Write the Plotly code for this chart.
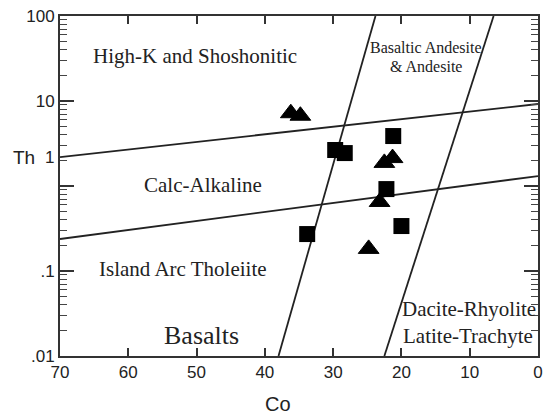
import plotly.graph_objects as go
import math

# ---- data ----
square_co = [29.7, 28.3, 21.2, 22.2, 20.0, 33.8]
square_th = [2.65, 2.44, 3.87, 0.92, 0.338, 0.272]

triangle_co = [36.2, 34.8, 21.3, 22.5, 23.2, 24.8]
triangle_th = [7.18, 6.71, 2.13, 1.87, 0.649, 0.182]

# field boundaries
upper_co = [70, 0]
upper_th = [2.19, 9.22]
lower_co = [70, 0]
lower_th = [0.238, 1.31]
left_co = [38.0, 23.8]
left_th = [0.01, 100]
right_co = [22.5, 6.5]
right_th = [0.01, 100]

x_ticks = [70, 60, 50, 40, 30, 20, 10, 0]
y_ticks = [0.01, 0.1, 1, 10, 100]
y_ticktext = [".01", ".1", "", "10", "100"]
y_minor = [m * 10 ** e for e in range(-2, 2) for m in range(2, 10)]

# field labels: (text, Co, Th, size)
field_labels = [
    ("High-K and Shoshonitic", 50.3, 10 ** 1.53, 21),
    ("Calc-Alkaline", 49.0, 10 ** 0.01, 21),
    ("Island Arc Tholeiite", 52.0, 10 ** -0.976, 21),
    ("Basalts", 49.3, 10 ** -1.753, 26),
    ("Basaltic Andesite", 16.4, 10 ** 1.624, 16),
    ("&amp; Andesite", 16.4, 10 ** 1.406, 16),
    ("Dacite-Rhyolite", 10.1, 10 ** -1.447, 21),
    ("Latite-Trachyte", 10.2, 10 ** -1.765, 21),
]

LINE = "#222222"
fig = go.Figure()
for xs, ys in [(upper_co, upper_th), (lower_co, lower_th), (left_co, left_th), (right_co, right_th)]:
    fig.add_trace(go.Scatter(x=xs, y=ys, mode="lines", line=dict(color=LINE, width=1.8),
                             hoverinfo="skip", showlegend=False))

fig.add_trace(go.Scatter(x=square_co, y=square_th, mode="markers",
                         marker=dict(symbol="square", size=16, color="black"), showlegend=False))
fig.add_trace(go.Scatter(x=triangle_co, y=triangle_th, mode="markers",
                         marker=dict(symbol="triangle-up", size=18, color="black",
                                     line=dict(width=1, color="black")), showlegend=False))

for text, cx, cy, sz in field_labels:
    fig.add_annotation(x=cx, y=math.log10(cy), xref="x", yref="y", text=text, showarrow=False,
                       font=dict(family="Liberation Serif, Times New Roman, serif", size=sz, color="#222"),
                       xanchor="center", yanchor="middle")

sans = "Liberation Sans, Arial, sans-serif"
# "1" label sits where the original figure draws it, with the horizontal "Th" title
fig.add_annotation(x=0, y=0.341, xref="paper", yref="y", text="1", showarrow=False,
                   xanchor="right", xshift=-4, font=dict(family=sans, size=17, color="#222"))
fig.add_annotation(x=-0.075, y=0.341, xref="paper", yref="y", text="Th", showarrow=False,
                   xanchor="center", font=dict(family=sans, size=19, color="#222"))
fig.add_annotation(x=0.456, y=-0.14, xref="paper", yref="paper", text="Co", showarrow=False,
                   xanchor="center", yanchor="middle", font=dict(family=sans, size=20, color="#222"))

fig.update_xaxes(range=[70, 0], tickvals=x_ticks, ticks="inside", ticklen=8, tickwidth=1.5,
                 tickcolor="#333", showline=True, linewidth=2, linecolor="#333", mirror="ticks",
                 showgrid=False, zeroline=False, ticklabeloverflow="allow",
                 tickfont=dict(family=sans, size=17, color="#222"))
fig.update_yaxes(type="log", range=[-2, 2], tickvals=y_ticks, ticktext=y_ticktext, ticks="inside",
                 ticklen=14, tickwidth=1.5, tickcolor="#333", showline=True, linewidth=2,
                 linecolor="#333", mirror="ticks", showgrid=False, zeroline=False,
                 tickfont=dict(family=sans, size=17, color="#222"),
                 minor=dict(tickmode="array", tickvals=y_minor, ticks="inside", ticklen=7,
                            tickwidth=1.2, tickcolor="#444", showgrid=False))

fig.update_layout(width=547, height=414, margin=dict(l=60, r=4, t=16, b=58),
                  plot_bgcolor="white", paper_bgcolor="white")
fig.write_html("out.html", config={"displayModeBar": False},
               post_script="document.body.style.margin='0';document.body.style.overflow='hidden';")
